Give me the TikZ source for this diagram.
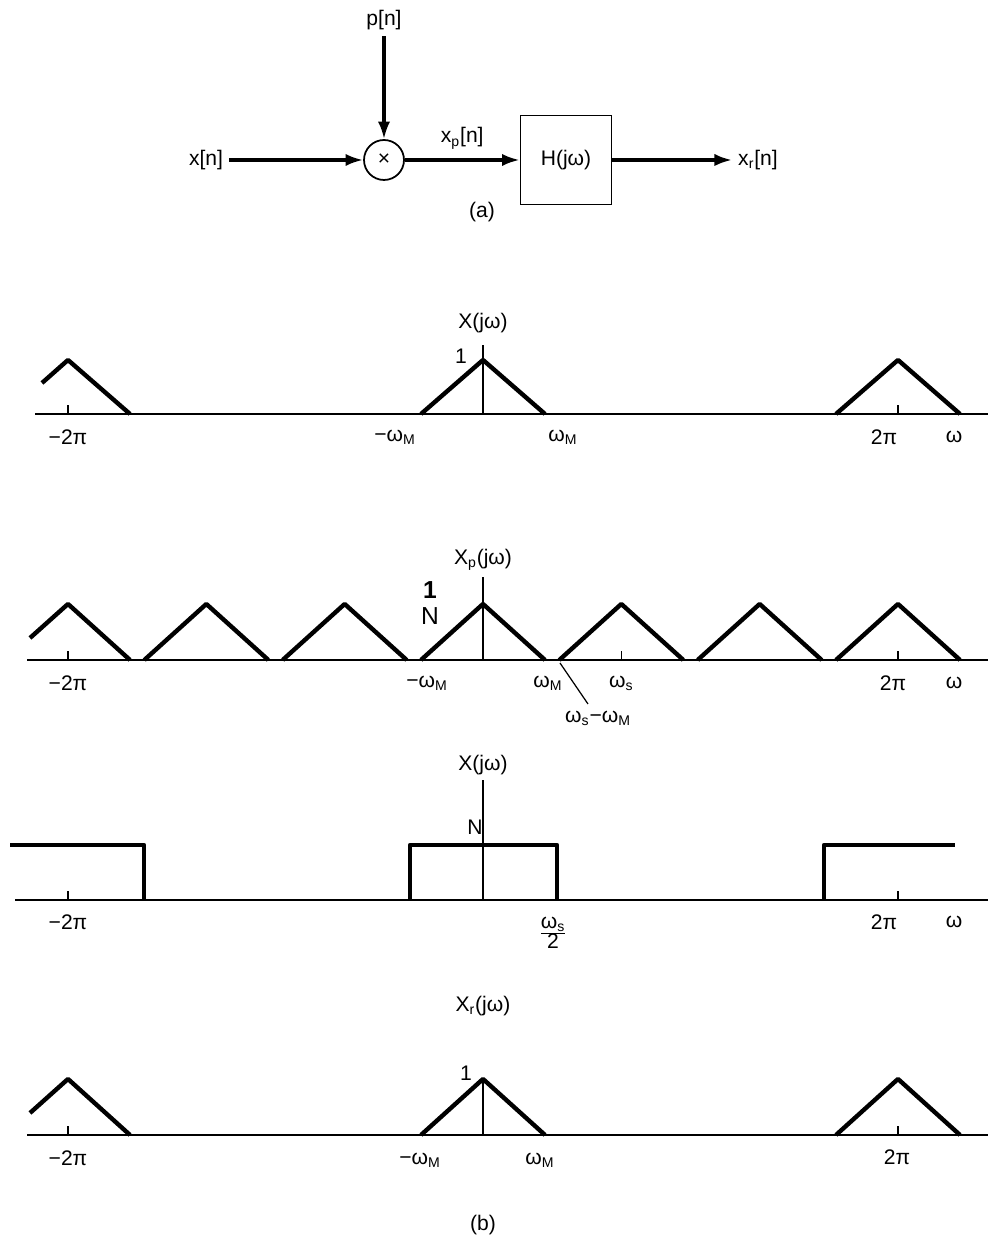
\documentclass[tikz,border=0pt]{standalone}
\usepackage{fontspec}
\setmainfont{Liberation Sans}
\usetikzlibrary{arrows.meta}
\newcommand{\sub}[1]{\textsubscript{#1}}
\begin{document}
\begin{tikzpicture}[x=.02cm,y=.02cm,font=\fontsize{12}{14}\selectfont,
    sig/.style={line width=2.5pt,line join=round},
    ax/.style={line width=.7pt},
    arr/.style={line width=1.8pt,-{Latex[length=10pt,width=7pt]}}]
  \useasboundingbox (0,0) rectangle (988,1244);
  \def\tp{415}\def\ws{138.33}
  % (a) the system
  \node (mult) at (384,1084) [draw,circle,line width=1pt,minimum size=.8cm,inner sep=0pt] {×};
  \node (filt) at (566,1084) [draw,line width=1pt,minimum width=1.82cm,minimum height=1.78cm] {H(jω)};
  \node (xin) at (206,1084) {x[n]};
  \node (pin) at (384,1224) {p[n]};
  \node (xout) at (758,1084) {x\sub{r}[n]};
  \draw[arr] (xin) -- (mult);
  \draw[arr] (pin) -- (mult);
  \draw[arr] (mult) -- node[above=2pt] (xp) {x\sub{p}[n]} (filt);
  \draw[arr] (filt) -- (xout);
  \node (capa) at (482,1032) {(a)};
  % X(jw)
  \begin{scope}[shift={(483,830)}]
    \draw[ax] (-448,0) -- (505,0);
    \draw[ax] (0,0) -- (0,69);
    \foreach \c in {-\tp,\tp} \draw[ax] (\c,0) -- (\c,9);
    \draw[sig] (-441,31) -- (-415,54) -- (-353,0);
    \draw[sig] (-62,0) -- (0,54) -- (62,0);
    \draw[sig] (353,0) -- (415,54) -- (477,0);
    \node (X) at (0,91) {X(jω)};
    \node (Xone) at (-22,58) {1};
    \node (Xa) at (-415,-23) {−2π};
    \node (Xb) at (-88,-23) {−ω\sub{M}};
    \node (Xc) at (80,-23) {ω\sub{M}};
    \node (Xd) at (401,-23) {2π};
    \node (Xe) at (471,-23) {ω};
  \end{scope}
  % Xp(jw)
  \begin{scope}[shift={(483,584)}]
    \draw[ax] (-456,0) -- (505,0);
    \draw[ax] (0,0) -- (0,83);
    \foreach \c in {-\tp,\ws,\tp} \draw[ax] (\c,0) -- (\c,9);
    \draw[sig] (-453,22) -- (-415,56) -- (-353,0);
    \foreach \k in {-2,...,3}
      \draw[sig] ({\k*\ws-62},0) -- ({\k*\ws},56) -- ({\k*\ws+62},0);
    \node (Xp) at (0,100) {X\sub{p}(jω)};
    \node (Xpn) at (-53,57) [align=center,font=\fontsize{14}{15}\selectfont] {\textbf{1}\\N};
    \node (Xpa) at (-415,-23) {−2π};
    \node (Xpb) at (-56,-23) {−ω\sub{M}};
    \node (Xpc) at (65,-23) {ω\sub{M}};
    \node (Xpd) at (\ws,-23) {ω\sub{s}};
    \node (Xpe) at (410,-23) {2π};
    \node (Xpf) at (471,-23) {ω};
    \node (Xpg) at (115,-58) {ω\sub{s}−ω\sub{M}};
    \coordinate (tip) at (77,-3);
    \draw[ax] (tip) -- (105,-44);
  \end{scope}
  % H(jw)
  \begin{scope}[shift={(483,344)}]
    \draw[ax] (-468,0) -- (505,0);
    \draw[ax] (0,0) -- (0,120);
    \foreach \c in {-\tp,\tp} \draw[ax] (\c,0) -- (\c,9);
    \draw[sig] (-473,55) -- (-339,55) -- (-339,0);
    \draw[sig] (-73,0) -- (-73,55) -- (74,55) -- (74,0);
    \draw[sig] (341,0) -- (341,55) -- (472,55);
    \node (H) at (0,135) {X(jω)};
    \node (Hn) at (-8,73) {N};
    \node (Ha) at (-415,-22) {−2π};
    \node (Hb) at (70,-33) {$\frac{\hbox{ω\sub{s}}}{\hbox{2}}$};
    \node (Hc) at (401,-22) {2π};
    \node (Hd) at (471,-22) {ω};
  \end{scope}
  % Xr(jw)
  \begin{scope}[shift={(483,109)}]
    \draw[ax] (-456,0) -- (505,0);
    \draw[ax] (0,0) -- (0,55);
    \foreach \c in {-\tp,\tp} \draw[ax] (\c,0) -- (\c,9);
    \draw[sig] (-453,22) -- (-415,56) -- (-353,0);
    \draw[sig] (-62,0) -- (0,56) -- (62,0);
    \draw[sig] (353,0) -- (415,56) -- (477,0);
    \node (Xr) at (0,129) {X\sub{r}(jω)};
    \node (Xrone) at (-17,62) {1};
    \node (Xra) at (-415,-23) {−2π};
    \node (Xrb) at (-63,-25) {−ω\sub{M}};
    \node (Xrc) at (57,-25) {ω\sub{M}};
    \node (Xrd) at (414,-22) {2π};
    \node (capb) at (0,-90) {(b)};
  \end{scope}
\end{tikzpicture}
\end{document}
